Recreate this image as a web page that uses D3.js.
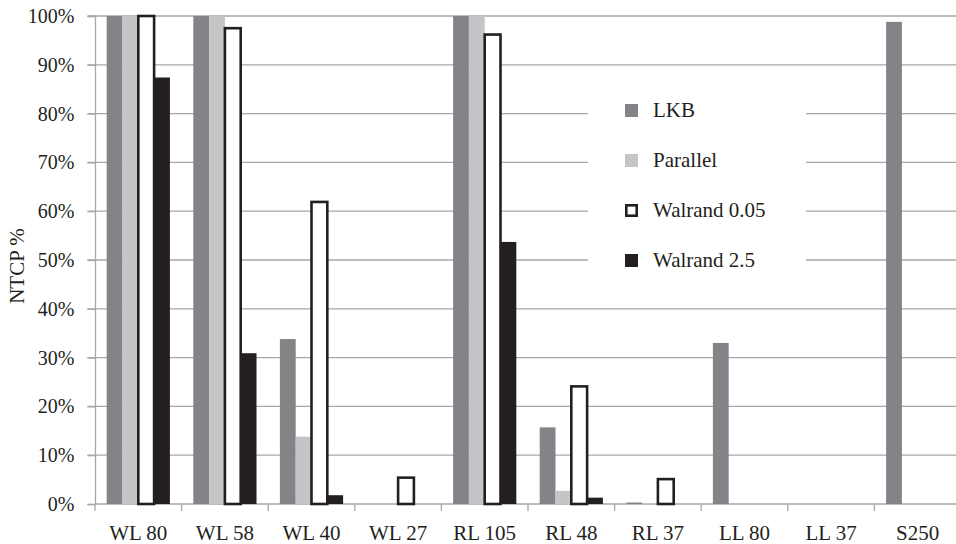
<!DOCTYPE html>
<html>
<head>
<meta charset="utf-8">
<script src="https://cdn.jsdelivr.net/npm/d3@7"></script>
<style>
  html, body { margin: 0; padding: 0; background: #fff; }
  svg { display: block; }
  text { font-family: "Liberation Serif", "DejaVu Serif", serif; fill: #231f20; }
</style>
</head>
<body>
<svg id="chart" width="956" height="544"></svg>
<script>
// Treatment plans on the x axis
const categories = ["WL 80", "WL 58", "WL 40", "WL 27", "RL 105", "RL 48", "RL 37", "LL 80", "LL 37", "S250"];
// NTCP model series
const seriesNames = ["LKB", "Parallel", "Walrand 0.05", "Walrand 2.5"];
// NTCP values (fraction), one array per series; null = not computed
const lkb        = [1.00, 1.00, 0.338, 0.00, 1.00, 0.157, 0.003, 0.330, 0.00, 0.988];
const parallel   = [1.00, 1.00, 0.138, 0.00, 1.00, 0.027, 0.001, 0.00, 0.00, 0.00];
const walrand005 = [1.00, 0.975, 0.619, 0.054, 0.962, 0.241, 0.051, null, null, null];
const walrand25  = [0.874, 0.309, 0.018, 0.00, 0.537, 0.013, 0.00, null, null, null];
const yTicks = [0, 0.1, 0.2, 0.3, 0.4, 0.5, 0.6, 0.7, 0.8, 0.9, 1.0];

const seriesValues = [lkb, parallel, walrand005, walrand25];
const styles = [
  { fill: "#838488", stroke: "none", sw: 0 },
  { fill: "#c4c5c7", stroke: "none", sw: 0 },
  { fill: "#ffffff", stroke: "#231f20", sw: 2.6 },
  { fill: "#231f20", stroke: "none", sw: 0 }
];

const svg = d3.select("#chart");
const plotLeft = 95, plotTop = 16, plotBottom = 504;
const step = 86.6;
const plotRight = plotLeft + step * categories.length;

const x0 = d3.scaleBand().domain(categories).range([plotLeft, plotRight]).padding(0);
const x1 = d3.scaleBand().domain(seriesNames).range([0, x0.bandwidth()]).paddingInner(0).paddingOuter(0.74);
const y = d3.scaleLinear().domain([0, 1]).range([plotBottom, plotTop]);

const gridColor = "#a7a7a9";

// Horizontal gridlines with left tick stubs
svg.append("g")
  .selectAll("line")
  .data(yTicks.filter(d => d > 0))
  .join("line")
  .attr("x1", plotLeft - 7.5).attr("x2", plotRight)
  .attr("y1", d => y(d)).attr("y2", d => y(d))
  .attr("stroke", gridColor).attr("stroke-width", 1.3);

// Y axis
const yAxis = svg.append("g")
  .attr("transform", `translate(${plotLeft},0)`)
  .call(d3.axisLeft(y).tickValues(yTicks).tickFormat(d3.format(".0%")).tickSize(7.5).tickPadding(13));
yAxis.select(".domain").attr("stroke", gridColor).attr("stroke-width", 1.3);
yAxis.selectAll(".tick line").attr("stroke", gridColor).attr("stroke-width", 1.3);
yAxis.selectAll(".tick text").attr("font-size", 20).attr("font-family", "Liberation Serif").attr("fill", "#231f20");

// X axis with ticks on category boundaries
const xAxis = svg.append("g")
  .attr("transform", `translate(0,${plotBottom})`)
  .call(d3.axisBottom(x0).tickSize(0).tickPadding(21));
xAxis.select(".domain").attr("stroke", gridColor).attr("stroke-width", 1.3).attr("d", `M${plotLeft},0H${plotRight}`);
xAxis.selectAll(".tick text").attr("font-size", 21).attr("font-family", "Liberation Serif").attr("fill", "#231f20");
svg.append("g")
  .selectAll("line")
  .data(d3.range(categories.length + 1))
  .join("line")
  .attr("x1", i => plotLeft + i * x0.step()).attr("x2", i => plotLeft + i * x0.step())
  .attr("y1", plotBottom).attr("y2", plotBottom + 7)
  .attr("stroke", gridColor).attr("stroke-width", 1.3);

// Bars
const groups = svg.append("g")
  .selectAll("g")
  .data(seriesNames.map((name, si) => ({ name, si })))
  .join("g");

groups.each(function (s) {
  const st = styles[s.si];
  d3.select(this)
    .selectAll("rect")
    .data(categories.map((c, ci) => ({ c, v: seriesValues[s.si][ci] }))
      .filter(d => d.v !== null && (d.v > 0 || st.sw > 0)))
    .join("rect")
    .attr("x", d => x0(d.c) + x1(s.name))
    .attr("width", x1.bandwidth())
    .attr("y", d => y(d.v))
    .attr("height", d => Math.max(0, y(0) - y(d.v)))
    .attr("fill", st.fill)
    .attr("stroke", st.stroke)
    .attr("stroke-width", st.sw);
});

// Legend
const legend = svg.append("g");
legend.append("rect")
  .attr("x", 588).attr("y", 86).attr("width", 218).attr("height", 200)
  .attr("fill", "#fff");
const items = legend.selectAll("g.item")
  .data(seriesNames)
  .join("g")
  .attr("class", "item")
  .attr("transform", (d, i) => `translate(625,${110.5 + i * 50})`);
items.append("rect")
  .attr("x", (d, i) => styles[i].sw ? 1.3 : 0)
  .attr("y", (d, i) => styles[i].sw ? -5.2 : -6.5)
  .attr("width", (d, i) => styles[i].sw ? 10.4 : 13)
  .attr("height", (d, i) => styles[i].sw ? 10.4 : 13)
  .attr("fill", (d, i) => styles[i].fill)
  .attr("stroke", (d, i) => styles[i].stroke)
  .attr("stroke-width", (d, i) => styles[i].sw);
items.append("text")
  .attr("x", 28).attr("y", 6.5)
  .attr("font-size", 21)
  .text(d => d);

// Y axis title
svg.append("text")
  .attr("transform", `translate(24,266) rotate(-90)`)
  .attr("text-anchor", "middle")
  .attr("font-size", 21)
  .text("NTCP %");
</script>
</body>
</html>
